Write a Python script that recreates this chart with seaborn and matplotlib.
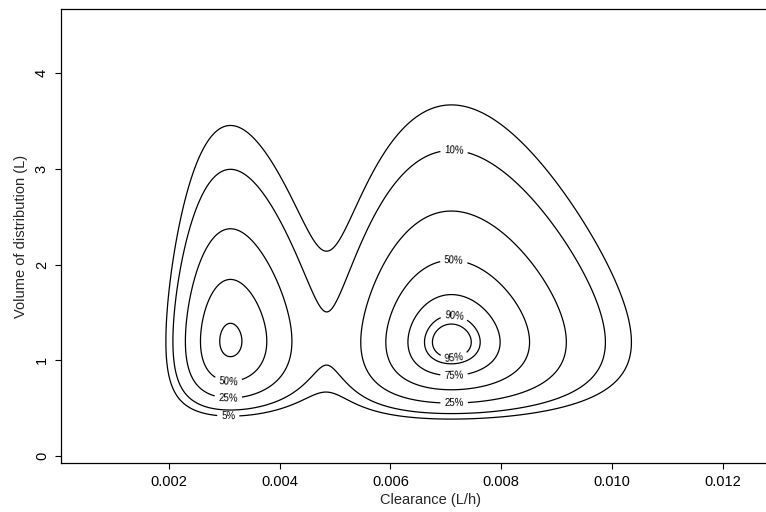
import numpy as np
import matplotlib
matplotlib.use("Agg")
import matplotlib.pyplot as plt
import seaborn as sns

# contour levels, as percent of the highest density
level_pct = [5, 10, 25, 50, 75, 90, 95]
level_text = ["5%", "10%", "25%", "50%", "75%", "90%", "95%"]

# two log-normal modes (left, right)
mode_weight = [0.79, 1.0]
mode_cl = [0.00311, 0.00710]      # clearance at the mode (L/h)
mode_cl_logsd = [0.20, 0.154]
mode_v = [1.20, 1.19]             # volume at the mode (L)
mode_v_logsd = [0.45, 0.46]

x_ticks = [0.002, 0.004, 0.006, 0.008, 0.010, 0.012]
x_tick_text = ["0.002", "0.004", "0.006", "0.008", "0.010", "0.012"]
y_ticks = [0, 1, 2, 3, 4]

# where each contour label sits (nearest contour is labelled)
label_spots = [
    (0.00307, 0.773), (0.00307, 0.596), (0.00307, 0.408),
    (0.00715, 3.21), (0.00715, 2.10), (0.00715, 1.47),
    (0.00715, 1.02), (0.00715, 0.79), (0.00715, 0.52),
]


def density_grid():
    cl = np.linspace(0.00005, 0.0134, 600)
    v = np.linspace(0.02, 4.7, 600)
    CL, V = np.meshgrid(cl, v)
    z = np.zeros_like(CL)
    for w, c, cs, vm, vs in zip(mode_weight, mode_cl, mode_cl_logsd, mode_v, mode_v_logsd):
        z += w * np.exp(-0.5 * ((np.log(CL) - np.log(c)) / cs) ** 2
                        - 0.5 * ((np.log(V) - np.log(vm)) / vs) ** 2)
    return CL, V, z / z.max()


def main():
    sns.set_style("ticks")
    plt.rcParams["font.family"] = ["Liberation Sans", "DejaVu Sans"]

    fig = plt.figure(figsize=(7.66, 5.12), dpi=100)
    # right edge of the box falls outside the picture, as in the original
    ax = fig.add_axes([60.7 / 766, 49 / 512, (800 - 60.7) / 766, (463 - 9.3) / 512])

    CL, V, Z = density_grid()
    levels = [p / 100 for p in level_pct]
    cs = ax.contour(CL, V, Z, levels=levels, colors="black", linewidths=0.9)
    ax.clabel(cs, levels, fmt=dict(zip(levels, level_text)), manual=label_spots,
              inline=True, inline_spacing=4, fontsize=7)

    ax.set_xlim(0.0000444, 0.013395)
    ax.set_ylim(-0.073, 4.668)
    ax.set_xticks(x_ticks)
    ax.set_xticklabels(x_tick_text)
    ax.set_yticks(y_ticks)
    for lab in ax.get_yticklabels():
        lab.set_rotation(90)
        lab.set_va("center")

    ax.tick_params(direction="out", length=4, width=0.8, color="black",
                   labelsize=10.5, labelcolor="black", pad=4.5)
    for sp in ax.spines.values():
        sp.set_color("black")
        sp.set_linewidth(0.9)

    ax.set_xlabel("Clearance (L/h)", fontsize=10.5, labelpad=3)
    ax.set_ylabel("Volume of distribution (L)", fontsize=10.5, labelpad=5)

    fig.savefig("out.png", dpi=100)
    plt.close(fig)


if __name__ == "__main__":
    main()
